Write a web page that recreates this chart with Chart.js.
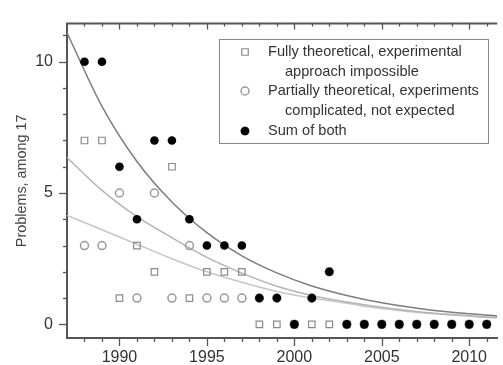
<!DOCTYPE html>
<html>
<head>
<meta charset="utf-8">
<script src="https://cdn.jsdelivr.net/npm/chart.js@4.4.1/dist/chart.umd.min.js"></script>
<style>
  body { margin: 0; background: #fff; }
  canvas { display: block; }
</style>
</head>
<body>
<canvas id="problems-chart" width="503" height="365"></canvas>
<script>
var canva = document.getElementById('problems-chart');

// yearly counts
const years = [1988, 1989, 1990, 1991, 1992, 1993, 1994, 1995, 1996, 1997, 1998, 1999,
               2000, 2001, 2002, 2003, 2004, 2005, 2006, 2007, 2008, 2009, 2010, 2011];
const fully_theoretical = [7, 7, 1, 3, 2, 6, 1, 2, 2, 2, 0, 0, 0, 0, 0, 0, 0, 0, 0, 0, 0, 0, 0, 0];
const partially_theoretical = [3, 3, 5, 1, 5, 1, 3, 1, 1, 1, 1, 1, 0, 1, 2, 0, 0, 0, 0, 0, 0, 0, 0, 0];
const sum_of_both = [10, 10, 6, 4, 7, 7, 4, 3, 3, 3, 1, 1, 0, 1, 2, 0, 0, 0, 0, 0, 0, 0, 0, 0];

// decay fit curves, values read at a few x positions
const fit_years = [1987, 1989, 1991, 1993, 1995, 1997, 1999, 2001, 2003, 2005, 2008, 2011.6];
const fit_sum = [11.1, 8.3, 6.2, 4.66, 3.49, 2.61, 1.96, 1.46, 1.1, 0.82, 0.53, 0.32];
const fit_fully = [6.35, 5.1, 4.1, 3.3, 2.55, 1.95, 1.45, 1.1, 0.85, 0.65, 0.42, 0.26];
const fit_partially = [4.15, 3.6, 3.05, 2.5, 2.0, 1.6, 1.25, 1.0, 0.8, 0.6, 0.4, 0.24];

const x_labels = [1990, 1995, 2000, 2005, 2010];
const y_labels = [0, 5, 10];

const legend_lines = [
    ['Fully theoretical, experimental', 'approach impossible'],
    ['Partially theoretical, experiments', 'complicated, not expected'],
    ['Sum of both']
];

function points(xs, ys) {
    var out = [];
    for (var i = 0; i < xs.length; i++) out.push({x: xs[i], y: ys[i]});
    return out;
}

const axis_color = '#555';
const text_color = '#333';
const font_family = '"Liberation Sans", Arial, sans-serif';

// marker datasets (first one is drawn on top)
const sum_set = {
    label: 'Sum of both', data: points(years, sum_of_both), order: 0,
    pointStyle: 'circle', pointRadius: 4.3, backgroundColor: '#000', borderColor: '#000', borderWidth: 0, showLine: false
};
const fully_set = {
    label: 'Fully theoretical', data: points(years, fully_theoretical), order: 1,
    pointStyle: 'rect', pointRadius: 4.6, backgroundColor: 'rgba(0,0,0,0)', borderColor: '#8a8a8a', borderWidth: 1.2, showLine: false
};
const partially_set = {
    label: 'Partially theoretical', data: points(years, partially_theoretical), order: 2,
    pointStyle: 'circle', pointRadius: 4, backgroundColor: 'rgba(0,0,0,0)', borderColor: '#9a9a9a', borderWidth: 1.5, showLine: false
};

function fitLine(vals, color) {
    return {
        type: 'line', data: points(fit_years, vals), order: 5,
        borderColor: color, borderWidth: 1.5, pointRadius: 0, fill: false,
        cubicInterpolationMode: 'monotone'
    };
}

// minor/major ticks on all sides plus the top frame line
const frameTicks = {
    id: 'frameTicks',
    afterDraw(chart) {
        const ctx = chart.ctx, a = chart.chartArea;
        const xs = chart.scales.x, ys = chart.scales.y;
        ctx.save();
        ctx.strokeStyle = axis_color;
        ctx.lineWidth = 2;
        ctx.beginPath();
        ctx.moveTo(a.left - 1, a.top);
        ctx.lineTo(a.right, a.top);
        ctx.stroke();
        ctx.lineWidth = 1.3;
        for (var yr = 1988; yr <= 2011; yr++) {
            var px = Math.round(xs.getPixelForValue(yr)) + 0.5;
            var major = yr % 5 === 0;
            ctx.beginPath();
            ctx.moveTo(px, a.bottom);
            ctx.lineTo(px, a.bottom + (major ? 8 : 4));
            ctx.moveTo(px, a.top);
            ctx.lineTo(px, a.top + (major ? 6 : 3));
            ctx.stroke();
        }
        for (var v = 0; v <= 11; v++) {
            var py = Math.round(ys.getPixelForValue(v)) + 0.5;
            var majorY = v % 5 === 0;
            ctx.beginPath();
            ctx.moveTo(a.left, py);
            ctx.lineTo(a.left - (majorY ? 8 : 4), py);
            ctx.stroke();
        }
        ctx.restore();
    }
};

// boxed legend with two-line entries
const boxLegend = {
    id: 'boxLegend',
    afterDraw(chart) {
        const ctx = chart.ctx;
        const sets = [fully_set, partially_set, sum_set];
        const bx = 219, by = 39, bw = 269, bh = 104;
        ctx.save();
        ctx.strokeStyle = '#888';
        ctx.lineWidth = 1;
        ctx.strokeRect(bx + 0.5, by + 0.5, bw, bh);
        ctx.font = '14.6px ' + font_family;
        ctx.fillStyle = text_color;
        ctx.textBaseline = 'middle';
        var rowY = [52, 91, 131];
        for (var i = 0; i < sets.length; i++) {
            var s = sets[i];
            ctx.strokeStyle = s.borderColor;
            ctx.fillStyle = s.backgroundColor;
            ctx.lineWidth = s.borderWidth;
            Chart.helpers.drawPoint(ctx, {pointStyle: s.pointStyle, radius: s.pointRadius, borderWidth: s.borderWidth}, 245, rowY[i]);
            if (s.borderWidth === 0) { ctx.fill(); }
            ctx.fillStyle = text_color;
            ctx.fillText(legend_lines[i][0], 268, rowY[i]);
            if (legend_lines[i][1]) ctx.fillText(legend_lines[i][1], 285, rowY[i] + 20);
        }
        ctx.restore();
    }
};

const data = {
    datasets: [sum_set, fully_set, partially_set,
               fitLine(fit_sum, '#7d7d7d'), fitLine(fit_fully, '#b4b4b4'), fitLine(fit_partially, '#c6c6c6')]
};

const config = {
    type: 'scatter',
    data: data,
    options: {
        responsive: false,
        animation: false,
        layout: { padding: { top: 14, right: 0, left: 0, bottom: 0 } },
        plugins: { legend: { display: false }, tooltip: { enabled: false } },
        scales: {
            x: {
                type: 'linear', min: 1987, max: 2011.6,
                grid: { display: false, drawTicks: false },
                border: { display: true, color: axis_color, width: 2 },
                afterBuildTicks: function(scale) { scale.ticks = x_labels.map(function(v) { return {value: v}; }); },
                afterFit: function(scale) { scale.height = 27; },
                ticks: { color: text_color, padding: 10, font: { family: font_family, size: 16 },
                         callback: function(v) { return String(v); } }
            },
            y: {
                type: 'linear', min: -0.52, max: 11.45,
                grid: { display: false, drawTicks: false },
                border: { display: true, color: axis_color, width: 2 },
                afterBuildTicks: function(scale) { scale.ticks = y_labels.map(function(v) { return {value: v}; }); },
                afterFit: function(scale) { scale.width = 67; },
                title: { display: true, text: 'Problems, among 17', color: '#444',
                         font: { family: font_family, size: 14.4 }, padding: { top: 13, bottom: 0 } },
                ticks: { color: text_color, padding: 14, font: { family: font_family, size: 16 } }
            }
        }
    },
    plugins: [frameTicks, boxLegend]
};

const problems_chart = new Chart(canva, config);
</script>
</body>
</html>
